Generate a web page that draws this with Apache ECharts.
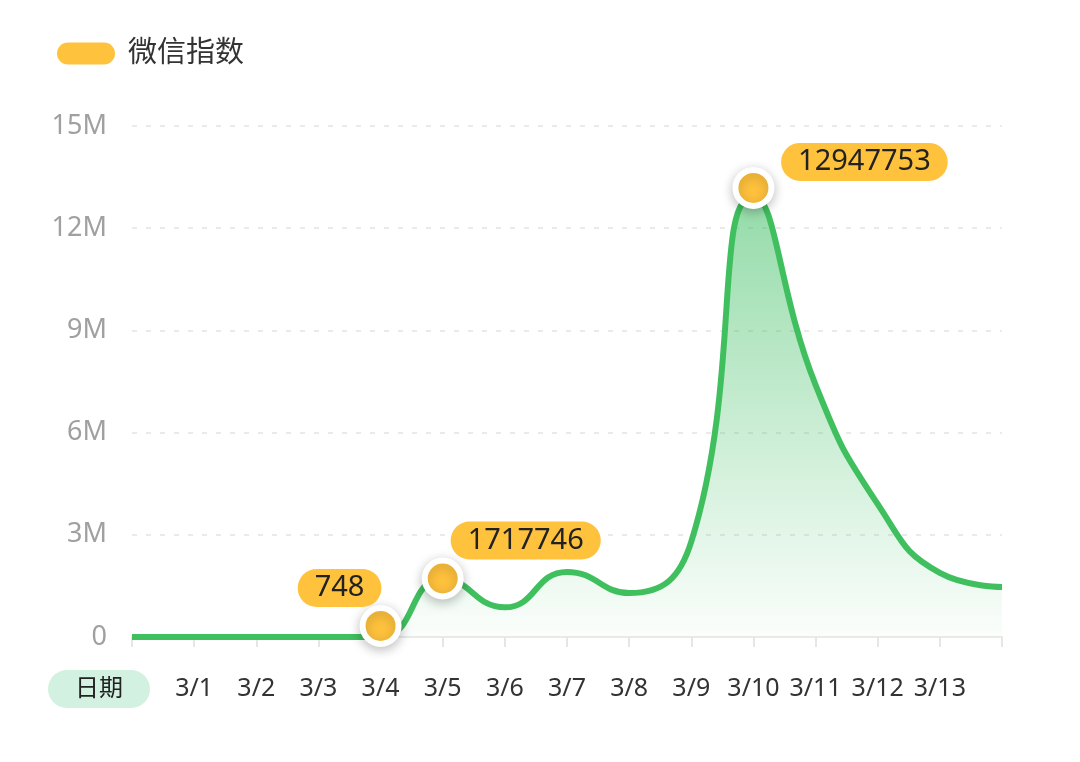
<!DOCTYPE html>
<html>
<head>
<meta charset="utf-8">
<script src="https://cdn.jsdelivr.net/npm/echarts@6/dist/echarts.min.js"></script>
<style>
html,body{margin:0;padding:0;background:#fff;}
#c{width:1080px;height:762px;}
</style>
</head>
<body>
<div id="c"></div>
<script>
var categories = ['', '3/1', '3/2', '3/3', '3/4', '3/5', '3/6', '3/7', '3/8', '3/9', '3/10', '3/11', '3/12', '3/13', ''];
var seriesName = '微信指数';
var values = [0, 0, 0, 0, 748, 1717746, 870000, 1910000, 1290000, 2800000, 12947753, 7400000, 3900000, 1880000, 1470000];
var highlighted = [4, 5, 10];
var yTickLabels = ['0', '3M', '6M', '9M', '12M', '15M'];
var axisTitle = '日期';

var FONT = '"Noto Sans", "Noto Sans CJK SC", sans-serif';
var labelStyles = {
  4: { offset: [-41, -38], symbolOffset: [0, -11] },
  5: { offset: [83, -38], symbolOffset: [0, 0] },
  10: { offset: [111, -26], symbolOffset: [0, -8] }
};

var data = values.map(function (v, i) {
  if (highlighted.indexOf(i) < 0) return v;
  var s = labelStyles[i];
  return {
    value: v,
    symbol: 'circle',
    symbolSize: 36,
    symbolOffset: s.symbolOffset,
    itemStyle: {
      color: '#ffc23d',
      borderColor: '#ffffff',
      borderWidth: 6,
      shadowBlur: 12,
      shadowColor: 'rgba(0,0,0,0.22)',
      shadowOffsetY: 3
    },
    label: {
      show: true,
      position: 'inside',
      offset: s.offset,
      formatter: String(v),
      fontSize: 29,
      fontFamily: FONT,
      color: '#222',
      backgroundColor: '#ffc23d',
      borderRadius: 19,
      padding: [3, 17, 3, 17],
      lineHeight: 32
    }
  };
});

var chart = echarts.init(document.getElementById('c'));
chart.setOption({
  animation: false,
  backgroundColor: '#ffffff',
  textStyle: { fontFamily: FONT },
  legend: {
    left: 52,
    top: 34,
    itemWidth: 58,
    itemHeight: 22,
    data: [{ name: seriesName, icon: 'path://M11,0 L47,0 A11,11 0 0 1 47,22 L11,22 A11,11 0 0 1 11,0 Z' }],
    textStyle: { fontSize: 29, color: '#333', padding: [0, 0, 0, 8], fontFamily: FONT }
  },
  grid: { left: 132, right: 78, top: 126, bottom: 125, containLabel: false },
  graphic: [{
    type: 'text',
    x: 99,
    y: 689,
    style: {
      text: axisTitle,
      align: 'center',
      verticalAlign: 'middle',
      fontSize: 24,
      fontFamily: FONT,
      fill: '#222',
      backgroundColor: '#d3f1e1',
      borderRadius: 20,
      padding: [7, 27, 7, 27]
    }
  }],
  xAxis: {
    type: 'category',
    data: categories,
    boundaryGap: false,
    axisLine: { lineStyle: { color: '#ebebeb', width: 2 } },
    axisTick: { show: true, length: 10, lineStyle: { color: '#e6e6e6', width: 2 } },
    axisLabel: { fontSize: 25, color: '#333', margin: 39, interval: 0, fontFamily: FONT },
    splitLine: { show: false }
  },
  yAxis: {
    type: 'value',
    min: 0,
    max: 15000000,
    interval: 3000000,
    axisLine: { show: false },
    axisTick: { show: false },
    axisLabel: {
      fontSize: 27,
      color: '#a0a0a0',
      margin: 25,
      fontFamily: FONT,
      formatter: function (v) { return yTickLabels[Math.round(v / 3000000)]; }
    },
    splitLine: { lineStyle: { color: '#e3e3e3', type: [5, 9], width: 1.5 } }
  },
  series: [{
    name: seriesName,
    type: 'line',
    smooth: true,
    symbol: 'none',
    showSymbol: true,
    showAllSymbol: true,
    data: data,
    itemStyle: { color: '#ffc23d' },
    lineStyle: { color: '#40bf5f', width: 6 },
    z: 3,
    areaStyle: {
      color: new echarts.graphic.LinearGradient(0, 0, 0, 1, [
        { offset: 0, color: 'rgba(64,191,100,0.8)' },
        { offset: 1, color: 'rgba(64,191,100,0.03)' }
      ])
    }
  }]
});
</script>
</body>
</html>
